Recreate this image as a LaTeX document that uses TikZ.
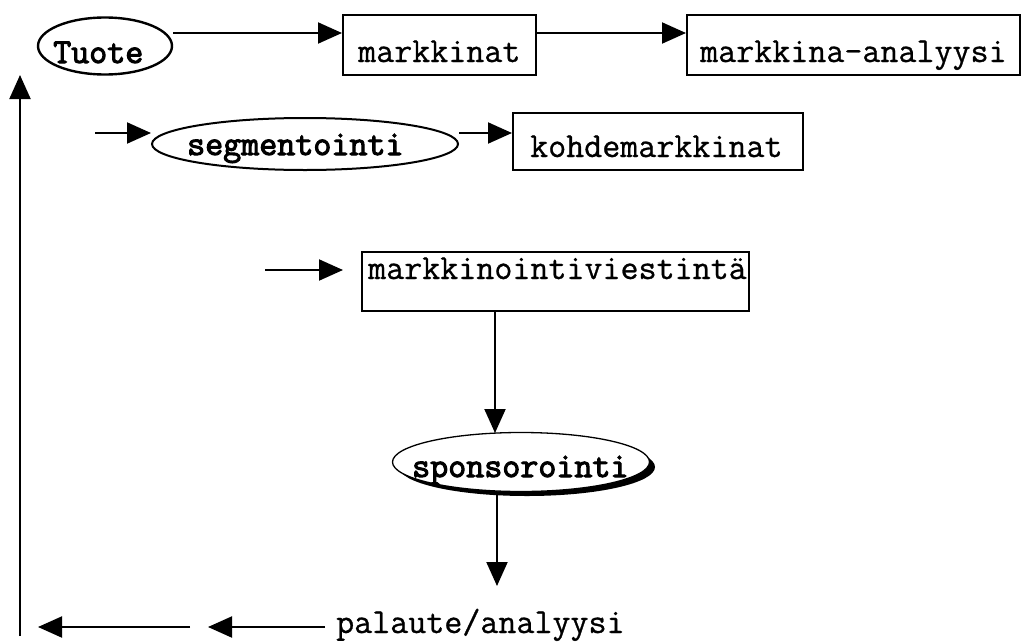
\documentclass[tikz,border=0pt]{standalone}
\usepackage{fontspec}
\newfontfamily\heavymono{Latin Modern Mono}[FakeBold=3]
\newfontfamily\plainmono{Latin Modern Mono}[FakeBold=0.8]
\usetikzlibrary{arrows.meta,shapes.geometric}
\begin{document}
\begin{tikzpicture}[x=1pt,y=-1pt,
  arr/.style={line width=2pt,-{Triangle[length=24pt,width=21pt]}},
  box/.style={draw,line width=2pt,rectangle,inner sep=0pt},
  oval/.style={draw,line width=2pt,ellipse,inner sep=0pt},
  txt/.style={font=\plainmono\fontsize{35}{35}\selectfont,inner sep=0pt,anchor=base west},
  btxt/.style={font=\heavymono\fontsize{35}{35}\selectfont,inner sep=0pt,anchor=base west},
]
\useasboundingbox (0,0) rectangle (1023,643);

% top row
\node[oval,line width=2.4pt,minimum width=134pt,minimum height=57pt] (tuote) at (105,46) {};
\node[btxt] (tuoteT) at (53,63) {Tuote};
\node[box,minimum width=193pt,minimum height=60pt] (mark) at (439.5,45) {};
\node[txt] (markT) at (358,62) {markkinat};
\node[box,minimum width=333pt,minimum height=60pt] (anal) at (853.5,45) {};
\node[txt] (analT) at (700,62) {markkina-analyysi};

% second row
\node[oval,minimum width=306pt,minimum height=52pt] (segm) at (305,144) {};
\node[btxt] (segmT) at (187,155) {segmentointi};
\node[box,minimum width=290pt,minimum height=57pt] (kohde) at (658,141.5) {};
\node[txt] (kohdeT) at (530,157) {kohdemarkkinat};

% third row: the box edge runs through the last letter
\node[txt] (viestT) at (368,279) {markkinointiviestintä};
\node[box,minimum width=387pt,minimum height=59pt] (viest) at (555.5,281.5) {};

% sponsorointi with its shadow
\fill[black] (527,467) ellipse [x radius=128pt,y radius=29pt];
\node[oval,fill=white,line width=1.3pt,minimum width=257pt,minimum height=59pt] (spons) at (521,462) {};
\node[btxt] (sponsT) at (412,477) {sponsorointi};

% feedback row
\node[txt] (pal) at (336,633) {palaute/analyysi};

% free ends of the open arrows
\coordinate (rowA) at (0,33);
\coordinate (segIn) at (95,133);
\coordinate (viestIn) at (265,270);
\coordinate (palIn) at (497,586);
\coordinate (backA) at (325,627);
\coordinate (backB) at (208,627);
\coordinate (backC) at (190,627);
\coordinate (backD) at (38,627);
\coordinate (loopBot) at (20,636);
\coordinate (loopTop) at (20,75);

% connectors
\draw[arr] (tuote.east |- rowA) -- (mark.west |- rowA);
\draw[arr] (mark.east |- rowA) -- (anal.west |- rowA);
\draw[arr] (segIn) -- (segm.west |- segIn);
\draw[arr] (segm.east |- segIn) -- (kohde.west |- segIn);
\draw[arr] (viestIn) -- (343,270);
\draw[arr] (viest.south -| 495,0) -- (495,433);
\draw[arr] (spons.south -| palIn) -- (palIn);
\draw[arr] (backA) -- (backB);
\draw[arr] (backC) -- (backD);
\draw[arr] (loopBot) -- (loopTop);
\end{tikzpicture}
\end{document}
